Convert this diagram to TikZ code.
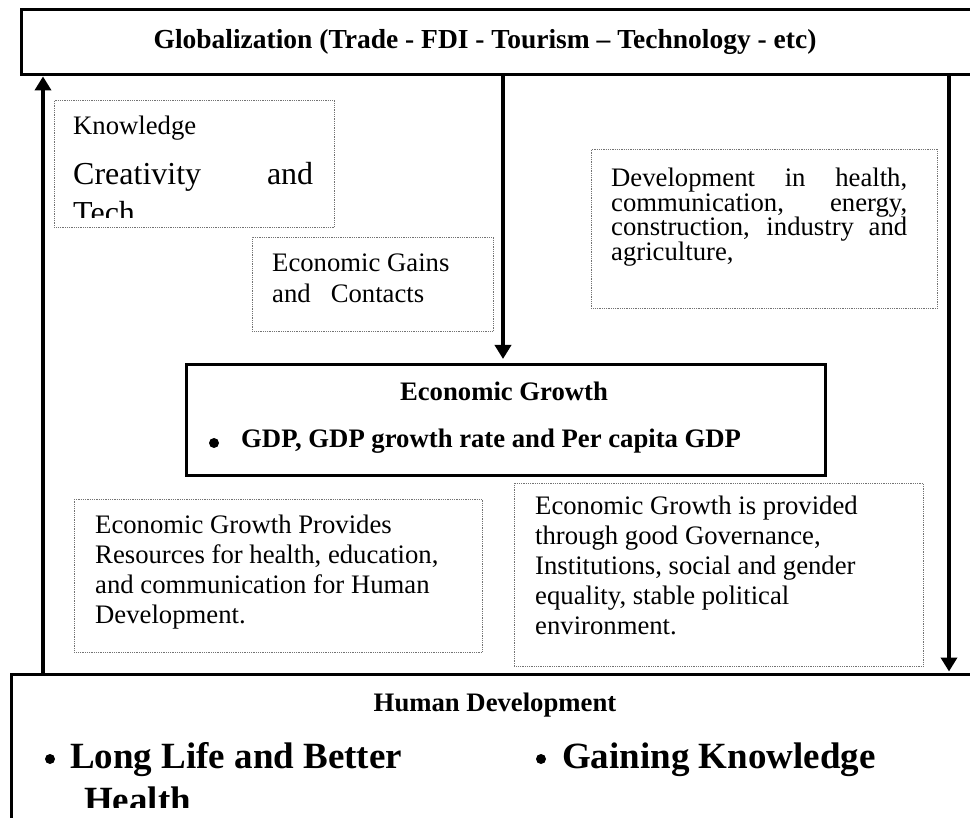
\documentclass[tikz,border=0pt]{standalone}
\usepackage{fontspec}
\setmainfont{Liberation Serif}
\usetikzlibrary{arrows.meta}
\begin{document}
\begin{tikzpicture}[x=1pt,y=-1pt,
  heavybox/.style={draw, line width=3.4pt, inner sep=0pt, anchor=north west},
  dotbox/.style={draw=black!55, line width=0.7pt, dash pattern=on 0.9pt off 0.9pt, inner sep=0pt, anchor=north west},
  flow/.style={line width=3.6pt, -{Triangle[length=14pt,width=16pt]}},
  txt/.style={inner sep=0pt, anchor=base west, font=\fontsize{26.7}{30.7}\selectfont},
  bigtxt/.style={inner sep=0pt, anchor=base west, font=\fontsize{32}{36}\selectfont},
  headtxt/.style={inner sep=0pt, anchor=base, font=\bfseries\fontsize{26.7}{30.7}\selectfont},
  boldtxt/.style={inner sep=0pt, anchor=base west, font=\bfseries\fontsize{26.7}{30.7}\selectfont},
  hugetxt/.style={inner sep=0pt, anchor=base west, font=\bfseries\fontsize{37}{43}\selectfont},
  bulletdot/.style={circle, fill, inner sep=0pt, minimum size=10pt}
]
\clip (0,0) rectangle (970,818);

% top banner
\node[heavybox, minimum width=970pt, minimum height=65pt] (glob) at (20,8) {};
\node[headtxt, font=\bfseries\fontsize{27.5}{30}\selectfont] (globtitle) at (485,49)
  {Globalization (Trade - FDI - Tourism – Technology - etc)};

% knowledge note
\node[dotbox, minimum width=280pt, minimum height=127pt] (know) at (54,100) {};
\node[txt] (knowa) at (73,135) {Knowledge};
\node[bigtxt] (knowb) at (73,185) {\makebox[240pt][s]{Creativity and}};
\begin{scope}
  \clip (54,100) rectangle (334,218);
  \node[bigtxt] (knowc) at (73,224) {Tech};
\end{scope}

% economic gains note
\node[dotbox, minimum width=241pt, minimum height=94pt] (gains) at (252,237) {};
\node[txt] (gainsa) at (272,272) {Economic Gains};
\node[txt] (gainsb) at (272,303) {and\ \ \ Contacts};

% development note
\node[dotbox, minimum width=346pt, minimum height=159pt] (dev) at (591,149) {};
\node[txt] (deva) at (611,187) {\makebox[296pt][s]{Development in health,}};
\node[txt] (devb) at (611,211.5) {\makebox[296pt][s]{communication, energy,}};
\node[txt] (devc) at (611,236) {\makebox[296pt][s]{construction, industry and}};
\node[txt] (devd) at (611,260.5) {agriculture,};

% economic growth
\node[heavybox, minimum width=639pt, minimum height=111pt] (eg) at (185,363) {};
\node[headtxt] (egtitle) at (504,401) {Economic Growth};
\node[bulletdot] (egdot) at (214,443) {};
\node[boldtxt] (egline) at (241,447) {GDP, GDP growth rate and Per capita GDP};

% lower notes
\node[dotbox, minimum width=408pt, minimum height=153pt] (res) at (74,499) {};
\node[txt] (resa) at (95,533) {Economic Growth Provides};
\node[txt] (resb) at (95,563) {Resources for health, education,};
\node[txt] (resc) at (95,593) {and communication for Human};
\node[txt] (resd) at (95,623) {Development.};

\node[dotbox, minimum width=409pt, minimum height=183pt] (gov) at (514,483) {};
\node[txt] (gova) at (535,514) {Economic Growth is provided};
\node[txt] (govb) at (535,544) {through good Governance,};
\node[txt] (govc) at (535,574) {Institutions, social and gender};
\node[txt] (govd) at (535,604) {equality, stable political};
\node[txt] (gove) at (535,634) {environment.};

% human development
\node[heavybox, minimum width=980pt, minimum height=200pt] (hd) at (10,673) {};
\node[headtxt] (hdtitle) at (495,711) {Human Development};
\node[bulletdot] (hddota) at (50,759) {};
\node[hugetxt] (hdlife) at (70,768) {Long Life and Better};
\begin{scope}
  \clip (60,780) rectangle (400,807);
  \node[hugetxt] (hdhealth) at (84,812) {Health};
\end{scope}
\node[bulletdot] (hddotb) at (541,759) {};
\node[hugetxt] (hdknow) at (562,768) {Gaining Knowledge};

% connectors
\coordinate (lx) at (43,0);
\coordinate (mx) at (503,0);
\coordinate (rx) at (949,0);
\draw[flow] (hd.north -| lx) -- (glob.south -| lx);
\draw[flow, shorten >=4pt] (glob.south -| mx) -- (eg.north -| mx);
\draw[flow, shorten >=1.5pt] (glob.south -| rx) -- (hd.north -| rx);
\end{tikzpicture}
\end{document}
